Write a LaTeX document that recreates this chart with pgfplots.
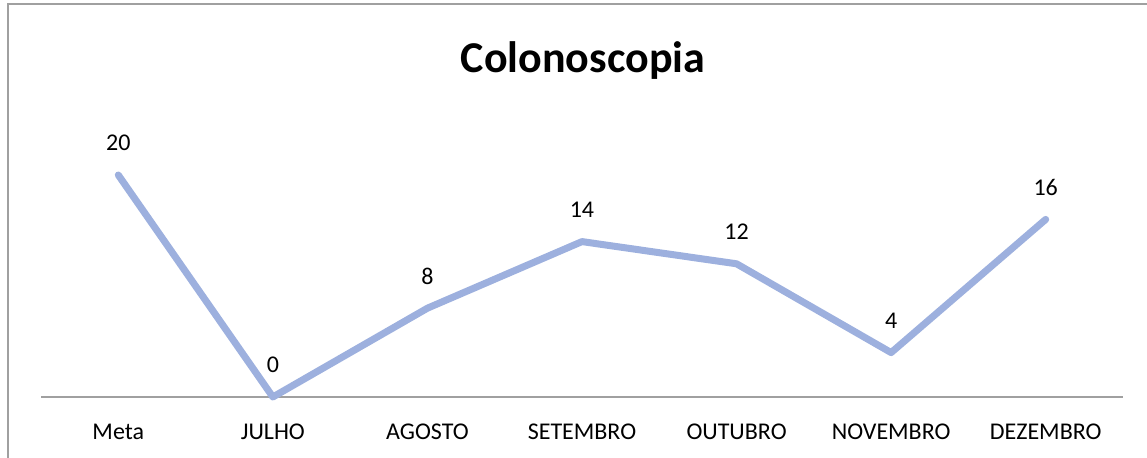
\documentclass[border=0pt]{standalone}
\usepackage{pgfplots}
\pgfplotsset{compat=1.18}
\usepackage{fontspec}
\setmainfont{Carlito}
\definecolor{serie}{RGB}{157,176,222}
\definecolor{moldura}{RGB}{160,160,160}

\begin{document}
\begin{tikzpicture}
  % 1 px of the reference = 0.5pt
  \useasboundingbox (0,0) rectangle (573.5pt,-229pt);
  \draw[moldura, line width=1pt] (4pt,-240pt) -- (4pt,-2.25pt) -- (590pt,-2.25pt);
  \node[anchor=base, font=\fontsize{22}{26}\selectfont\bfseries] at (291.5pt,-36.5pt) {Colonoscopia};
  \begin{axis}[
      at={(20.5pt,-198.5pt)}, anchor=south west,
      scale only axis,
      width=541pt, height=111pt,
      xmin=-0.5, xmax=6.5,
      ymin=0, ymax=20,
      axis x line=bottom, axis y line=none,
      x axis line style={-, draw=moldura, line width=1pt},
      major tick length=0pt,
      xtick={0,...,6},
      xticklabels={Meta, JULHO, AGOSTO, SETEMBRO, OUTUBRO, NOVEMBRO, DEZEMBRO},
      xticklabel style={anchor=base, inner sep=0pt, yshift=-21.5pt,
        font=\fontsize{12}{14}\selectfont},
      clip=false,
      /pgf/number format/assume math mode=true,
      nodes near coords,
      every node near coord/.append style={anchor=base, inner sep=0pt,
        yshift=12pt, font=\fontsize{12}{14}\selectfont, black},
    ]
    \addplot[serie, line width=3.5pt, line cap=round, line join=round, mark=none]
      coordinates {(0,20) (1,0) (2,8) (3,14) (4,12) (5,4) (6,16)};
  \end{axis}
\end{tikzpicture}
\end{document}
